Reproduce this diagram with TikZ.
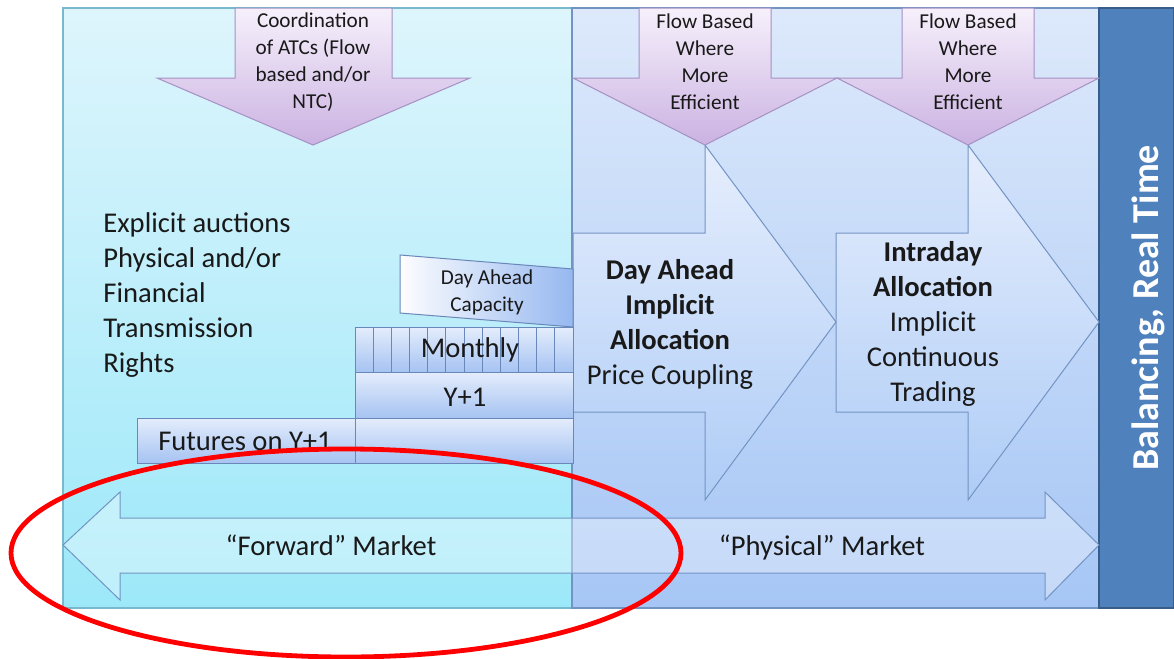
\documentclass[tikz,border=0pt]{standalone}
\usepackage{fontspec}
\setmainfont{Carlito}
\usepackage{tikz}
\usetikzlibrary{positioning}
\definecolor{leftTop}{RGB}{222,245,252}
\definecolor{leftBot}{RGB}{156,232,249}
\definecolor{leftLine}{RGB}{120,185,205}
\definecolor{midTop}{RGB}{221,233,251}
\definecolor{midBot}{RGB}{166,198,245}
\definecolor{midLine}{RGB}{115,148,195}
\definecolor{purpTop}{RGB}{246,240,251}
\definecolor{purpBot}{RGB}{203,178,226}
\definecolor{purpLine}{RGB}{165,145,195}
\definecolor{blkTop}{RGB}{230,238,253}
\definecolor{blkBot}{RGB}{174,204,246}
\definecolor{barTop}{RGB}{228,237,252}
\definecolor{barBot}{RGB}{166,195,242}
\definecolor{barLine}{RGB}{105,135,185}
\definecolor{capRight}{RGB}{150,184,240}
\definecolor{balFill}{RGB}{79,129,189}
\definecolor{balLine}{RGB}{56,93,138}
\definecolor{txtCol}{RGB}{25,25,25}
\tikzset{
  txt/.style={inner sep=0pt, text=txtCol, align=center, font=\fontsize{14.3}{17.5}\selectfont},
  smalltxt/.style={inner sep=0pt, text=txtCol, align=center, font=\fontsize{10.6}{13.5}\selectfont},
  downarrow/.style={top color=purpTop, bottom color=purpBot, draw=purpLine, line width=0.5pt},
  blockarrow/.style={top color=blkTop, bottom color=blkBot, draw=midLine, line width=0.5pt},
  bar/.style={top color=barTop, bottom color=barBot, draw=barLine, line width=0.5pt}
}
\begin{document}
\begin{tikzpicture}[x=0.5pt, y=-0.5pt]
\useasboundingbox (0,0) rectangle (1174,659);
\shadedraw[top color=leftTop, bottom color=leftBot, draw=leftLine, line width=0.6pt] (63,8) rectangle (572,608);
\shadedraw[top color=midTop, bottom color=midBot, draw=midLine, line width=0.6pt] (572,8) rectangle (1099,608);
\filldraw[fill=balFill, draw=balLine, line width=0.8pt] (1099,8) rectangle (1174,608);
\shadedraw[blockarrow] (573,233) -- (705,233) -- (705,145) -- (836,322) -- (705,500) -- (705,412) -- (573,412) -- cycle;
\shadedraw[blockarrow] (836,233) -- (968,233) -- (968,145) -- (1099,322) -- (968,500) -- (968,412) -- (836,412) -- cycle;
\shadedraw[downarrow] (235,8) -- (392,8) -- (392,78) -- (470,78) -- (313,145) -- (157,78) -- (235,78) -- cycle;
\shadedraw[downarrow] (639,8) -- (771,8) -- (771,78) -- (837,78) -- (705,145) -- (573,78) -- (639,78) -- cycle;
\shadedraw[downarrow] (902,8) -- (1034,8) -- (1034,78) -- (1099,78) -- (968,145) -- (837,78) -- (902,78) -- cycle;
\shadedraw[left color=white!90!blkTop, right color=capRight, draw=barLine, line width=0.5pt] (400,255) -- (573,269) -- (573,327) -- (400,313) -- cycle;
\shadedraw[bar] (355,327) rectangle (573,372);
\foreach \i in {1,...,11}
  \draw[barLine, line width=0.5pt] ({355+\i*18.17},327) -- ({355+\i*18.17},372);
\shadedraw[bar] (355,372) rectangle (573,418);
\shadedraw[bar] (137,418) rectangle (355,463);
\shadedraw[bar] (355,418) rectangle (573,463);
\filldraw[fill=white, fill opacity=0.35, draw=midLine, line width=0.5pt] (63,545) -- (120,492) -- (120,518) -- (1045,518) -- (1045,492) -- (1099,545) -- (1045,600) -- (1045,573) -- (120,573) -- (120,600) -- cycle;
\node[txt, align=left, anchor=west] (explicit) at (103,295) {Explicit auctions\\Physical and/or\\Financial\\Transmission\\Rights};
\node[smalltxt] (coord) at (313,62) {Coordination\\of ATCs (Flow\\based and/or\\NTC)};
\node[smalltxt] (flowda) at (705,62) {Flow Based\\Where\\More\\Efficient};
\node[smalltxt] (flowid) at (968,62) {Flow Based\\Where\\More\\Efficient};
\node[smalltxt] (dacap) at (487,292) {Day Ahead\\Capacity};
\node[txt] (monthly) at (470,350) {Monthly};
\node[txt] (yearly) at (465,397) {Y+1};
\node[txt] (futures) at (245,441) {Futures on Y+1};
\node[txt] (dayahead) at (670,324) {\textbf{Day Ahead}\\\textbf{Implicit}\\\textbf{Allocation}\\Price Coupling};
\node[txt] (intraday) at (933,324) {\textbf{Intraday}\\\textbf{Allocation}\\Implicit\\Continuous\\Trading};
\node[txt, anchor=base] (forward) at (331,555) {``Forward'' Market};
\node[txt, anchor=base] (physical) at (822,555) {``Physical'' Market};
\node[rotate=90, inner sep=0pt, text=white, font=\bfseries\fontsize{19}{23}\selectfont] (balancing) at (1148,308) {Balancing, Real Time};
\draw[red, line width=2.4pt] (346,553) ellipse [x radius=335, y radius=104];
\end{tikzpicture}
\end{document}
